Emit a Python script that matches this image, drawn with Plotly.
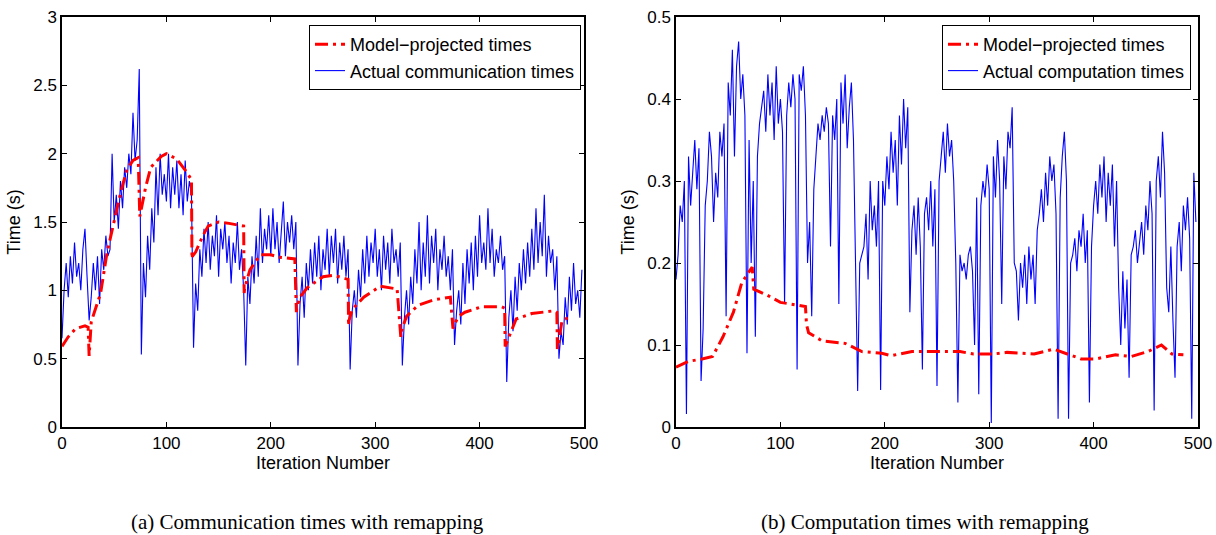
import plotly.graph_objects as go

# ---------------- data ----------------
iters = list(range(0, 500, 2))

comm_actual = [
    0.65, 1.0, 1.2, 0.95, 1.25, 1.05, 1.35, 1.1, 1.2, 1.0,
    1.3, 1.45, 1.1, 0.78, 0.95, 1.2, 1.0, 1.25, 0.9, 1.3,
    1.15, 1.4, 1.25, 1.3, 2.0, 1.5, 1.7, 1.45, 1.8, 1.6,
    1.9, 1.75, 2.0, 1.85, 2.3, 1.95, 2.1, 2.62, 0.53, 1.2,
    0.95, 1.4, 1.15, 1.6, 1.35, 1.9, 1.55, 2.0, 1.7, 1.85,
    1.65, 2.0, 1.6, 1.9, 1.7, 1.95, 1.6, 1.85, 1.55, 1.95,
    1.65, 1.8, 1.7, 0.58, 1.05, 0.85, 1.3, 1.1, 1.45, 1.2,
    1.5, 1.15, 1.4, 1.25, 1.55, 1.1, 1.45, 1.3, 1.5, 1.2,
    1.4, 1.05, 1.35, 1.2, 1.5, 1.15, 1.3, 1.0, 0.45, 1.1,
    0.9, 1.25, 1.05, 1.4, 1.1, 1.6, 1.2, 1.45, 1.3, 1.55,
    1.25, 1.6, 1.3, 1.5, 1.2, 1.45, 1.65, 1.25, 1.5, 1.35,
    1.55, 1.3, 1.5, 0.45, 0.9, 1.1, 0.8, 1.2, 1.0, 1.3,
    1.05, 1.35, 1.1, 1.4, 1.0, 1.3, 1.15, 1.45, 1.1, 1.4,
    1.2, 1.45, 1.05, 1.35, 1.15, 1.4, 1.1, 1.3, 0.42, 0.85,
    1.0, 0.8, 1.15, 0.95, 1.3, 1.05, 1.4, 1.1, 1.35, 1.2,
    1.45, 1.1, 1.3, 1.0, 1.4, 1.15, 1.35, 1.05, 1.45, 1.2,
    1.3, 1.1, 1.35, 0.45, 0.8, 1.0, 0.75, 1.1, 0.9, 1.3,
    1.05, 1.5, 1.0, 1.35, 1.1, 1.55, 1.05, 1.4, 1.2, 1.45,
    1.0, 1.3, 1.15, 1.4, 1.1, 1.25, 1.0, 1.3, 0.6, 0.85,
    1.0, 0.75, 1.2, 0.9, 1.3, 1.05, 1.35, 1.0, 1.4, 1.1,
    1.55, 1.2, 1.35, 1.15, 1.6, 1.2, 1.45, 1.1, 1.3, 1.2,
    1.4, 1.15, 1.25, 0.33, 0.8, 1.0, 0.7, 1.1, 0.85, 1.2,
    1.0, 1.3, 1.05, 1.35, 1.1, 1.45, 1.15, 1.6, 1.2, 1.5,
    1.25, 1.7, 1.1, 1.4, 1.2, 1.3, 1.0, 1.25, 0.5, 0.7,
    0.6, 0.95, 0.75, 1.1, 0.85, 1.2, 0.9, 1.0, 0.8, 1.15,
]

comm_model_x = [0, 6, 13, 22, 25, 26, 28, 31, 37, 43, 50, 56, 62, 68, 73, 74.5, 75,
                80, 85, 95, 100, 110, 118, 124, 124.5, 125, 128, 135, 140, 150, 160, 174,
                174.5, 175, 180, 190, 200, 210, 223, 224.5, 225, 228, 235, 250, 260, 274,
                274.5, 275, 278, 289, 305, 321, 324.5, 325, 330, 341, 356, 372, 374.5,
                375, 380, 386, 402, 421, 424, 424.5, 435, 450, 471, 474, 474.5, 479, 488]
comm_model_y = [0.59, 0.66, 0.72, 0.74, 0.73, 0.52, 0.77, 0.84, 0.98, 1.27, 1.52, 1.71, 1.88, 1.95, 1.97, 1.54, 1.56,
                1.75, 1.9, 1.98, 2.0, 1.96, 1.88, 1.81, 1.23, 1.25, 1.28, 1.4, 1.47, 1.5, 1.49, 1.47,
                0.98, 1.02, 1.15, 1.26, 1.26, 1.24, 1.23, 0.84, 0.88, 0.95, 1.02, 1.1, 1.11, 1.08,
                0.74, 0.78, 0.86, 0.95, 1.03, 1.01, 0.66, 0.7, 0.81, 0.89, 0.93, 0.95, 0.72,
                0.74, 0.81, 0.84, 0.88, 0.88, 0.87, 0.59, 0.79, 0.83, 0.85, 0.84, 0.57, 0.78, 0.81]

comp_actual = [
    0.18, 0.21, 0.27, 0.25, 0.3, 0.016, 0.33, 0.27, 0.31, 0.35,
    0.29, 0.34, 0.056, 0.12, 0.27, 0.3, 0.36, 0.33, 0.25, 0.31,
    0.28, 0.36, 0.33, 0.37, 0.135, 0.42, 0.38, 0.46, 0.33, 0.44,
    0.47, 0.4, 0.43, 0.38, 0.09, 0.35, 0.2, 0.3, 0.11, 0.33,
    0.37, 0.39, 0.41, 0.36, 0.43, 0.38, 0.42, 0.35, 0.44, 0.37,
    0.4, 0.36, 0.15, 0.38, 0.42, 0.39, 0.43, 0.4, 0.07, 0.43,
    0.41, 0.44, 0.38, 0.2, 0.25, 0.135, 0.29, 0.33, 0.37, 0.35,
    0.38, 0.36, 0.39, 0.37, 0.22, 0.38, 0.35, 0.4, 0.15, 0.42,
    0.37, 0.43, 0.34, 0.39, 0.42, 0.35, 0.2, 0.044, 0.2, 0.21,
    0.22, 0.26, 0.18, 0.3, 0.24, 0.27, 0.22, 0.3, 0.045, 0.3,
    0.27, 0.33, 0.29, 0.36, 0.31, 0.35, 0.27, 0.38, 0.32, 0.4,
    0.34, 0.39, 0.14, 0.24, 0.27, 0.21, 0.28, 0.22, 0.07, 0.26,
    0.28, 0.24, 0.3, 0.22, 0.29, 0.05, 0.3, 0.33, 0.36, 0.31,
    0.37, 0.33, 0.35, 0.3, 0.2, 0.03, 0.21, 0.19, 0.2, 0.18,
    0.21, 0.22, 0.19, 0.1, 0.28, 0.04, 0.27, 0.3, 0.28, 0.32,
    0.29, 0.005, 0.33, 0.28, 0.35, 0.3, 0.15, 0.33, 0.29, 0.36,
    0.34, 0.39, 0.2, 0.19, 0.13, 0.2, 0.17, 0.21, 0.15, 0.22,
    0.18, 0.21, 0.15, 0.24, 0.26, 0.29, 0.25, 0.31, 0.27, 0.33,
    0.3, 0.32, 0.26, 0.01, 0.28, 0.33, 0.36, 0.3, 0.01, 0.2,
    0.21, 0.23, 0.19, 0.24, 0.22, 0.26, 0.2, 0.24, 0.03, 0.22,
    0.27, 0.3, 0.26, 0.32, 0.28, 0.33, 0.25, 0.31, 0.27, 0.32,
    0.22, 0.3, 0.17, 0.1, 0.19, 0.12, 0.18, 0.06, 0.21, 0.22,
    0.24, 0.2, 0.23, 0.25, 0.21, 0.27, 0.24, 0.3, 0.26, 0.02,
    0.3, 0.33, 0.28, 0.36, 0.31, 0.17, 0.14, 0.22, 0.13, 0.06,
    0.22, 0.25, 0.19, 0.27, 0.24, 0.28, 0.23, 0.01, 0.31, 0.25,
]

comp_model_x = [0, 12, 25, 35, 45, 55, 63, 71, 73, 74.5, 87, 100, 116, 124, 125, 127, 140, 162,
                178, 197, 206, 226, 251, 272, 285, 304, 317, 327, 343, 362, 375, 388, 402,
                421, 436, 452, 465, 475, 486]
comp_model_y = [0.073, 0.08, 0.083, 0.086, 0.11, 0.14, 0.176, 0.19, 0.195, 0.168, 0.161, 0.152, 0.149, 0.147, 0.125, 0.115, 0.105, 0.102,
                0.092, 0.09, 0.087, 0.092, 0.092, 0.092, 0.089, 0.089, 0.091, 0.09, 0.089, 0.095, 0.089, 0.083, 0.083,
                0.088, 0.086, 0.092, 0.1, 0.089, 0.088]

x_ticks = [0, 100, 200, 300, 400, 500]
comm_yticks = [0, 0.5, 1, 1.5, 2, 2.5, 3]
comp_yticks = [0, 0.1, 0.2, 0.3, 0.4, 0.5]

# ---------------- layout helpers (body margin removed by post_script) ----------------
W, H, OFF = 1216, 535, 0


def px(x):
    return (x - OFF) / W


def py(y):
    return 1 - (y - OFF) / H


FONT = "Liberation Sans, Arial, sans-serif"
RED_DASH = "13px,5px,3px,5px"

fig = go.Figure()

fig.add_trace(go.Scatter(x=iters, y=comm_actual, mode="lines", name="Actual communication times",
                         line=dict(color="#0000ff", width=1.1), xaxis="x", yaxis="y",
                         legend="legend", legendrank=2))
fig.add_trace(go.Scatter(x=comm_model_x, y=comm_model_y, mode="lines", name="Model\u2212projected times",
                         line=dict(color="#ff0000", width=3, dash=RED_DASH), xaxis="x", yaxis="y",
                         legend="legend", legendrank=1))
fig.add_trace(go.Scatter(x=iters, y=comp_actual, mode="lines", name="Actual computation times",
                         line=dict(color="#0000ff", width=1.1), xaxis="x2", yaxis="y2",
                         legend="legend2", legendrank=2))
fig.add_trace(go.Scatter(x=comp_model_x, y=comp_model_y, mode="lines", name="Model\u2212projected times",
                         line=dict(color="#ff0000", width=3, dash=RED_DASH), xaxis="x2", yaxis="y2",
                         legend="legend2", legendrank=1))

axis_common = dict(showline=True, linecolor="black", linewidth=1.5, mirror="ticks",
                   ticks="inside", ticklen=5, tickcolor="black", showgrid=False, zeroline=False,
                   automargin=False, ticklabeloverflow="allow",
                   tickfont=dict(family=FONT, size=17, color="black"))
TITLE_FONT = dict(family=FONT, size=18, color="black")

ydom = [py(427), py(17)]
fig.update_layout(
    width=W, height=H,
    margin=dict(l=0, r=0, t=0, b=0),
    paper_bgcolor="white", plot_bgcolor="white",
    font=dict(family=FONT, color="black"),
    xaxis=dict(domain=[px(62), px(584)], range=[0, 500], tickvals=x_ticks, anchor="y",
               title=dict(text="Iteration Number", font=TITLE_FONT, standoff=0),
               **axis_common),
    yaxis=dict(domain=ydom, range=[0, 3], tickvals=comm_yticks, anchor="x",
               title=dict(text="Time (s)", font=TITLE_FONT, standoff=8),
               **axis_common),
    xaxis2=dict(domain=[px(676), px(1198)], range=[0, 500], tickvals=x_ticks, anchor="y2",
                title=dict(text="Iteration Number", font=TITLE_FONT, standoff=0),
                **axis_common),
    yaxis2=dict(domain=ydom, range=[0, 0.5], tickvals=comp_yticks, anchor="x2",
                title=dict(text="Time (s)", font=TITLE_FONT, standoff=8),
                **axis_common),
    legend=dict(x=px(581), y=py(25), xanchor="right", yanchor="top",
                bgcolor="white", bordercolor="black", borderwidth=1,
                font=dict(family=FONT, size=18, color="black"),
                tracegroupgap=0, itemwidth=30),
    legend2=dict(x=px(1191), y=py(25), xanchor="right", yanchor="top",
                 bgcolor="white", bordercolor="black", borderwidth=1,
                 font=dict(family=FONT, size=18, color="black"),
                 tracegroupgap=0, itemwidth=30),
    showlegend=True,
)

CAP_FONT = dict(family="Liberation Serif, Times New Roman, serif", size=21, color="black")
fig.add_annotation(text="(a) Communication times with remapping", x=px(307), y=py(522),
                   xref="paper", yref="paper", showarrow=False, font=CAP_FONT,
                   xanchor="center", yanchor="middle")
fig.add_annotation(text="(b) Computation times with remapping", x=px(925), y=py(522),
                   xref="paper", yref="paper", showarrow=False, font=CAP_FONT,
                   xanchor="center", yanchor="middle")

fig.write_html("out.html",
               config={"displayModeBar": False},
               post_script="document.body.style.margin='0px';document.body.style.overflow='hidden';")
